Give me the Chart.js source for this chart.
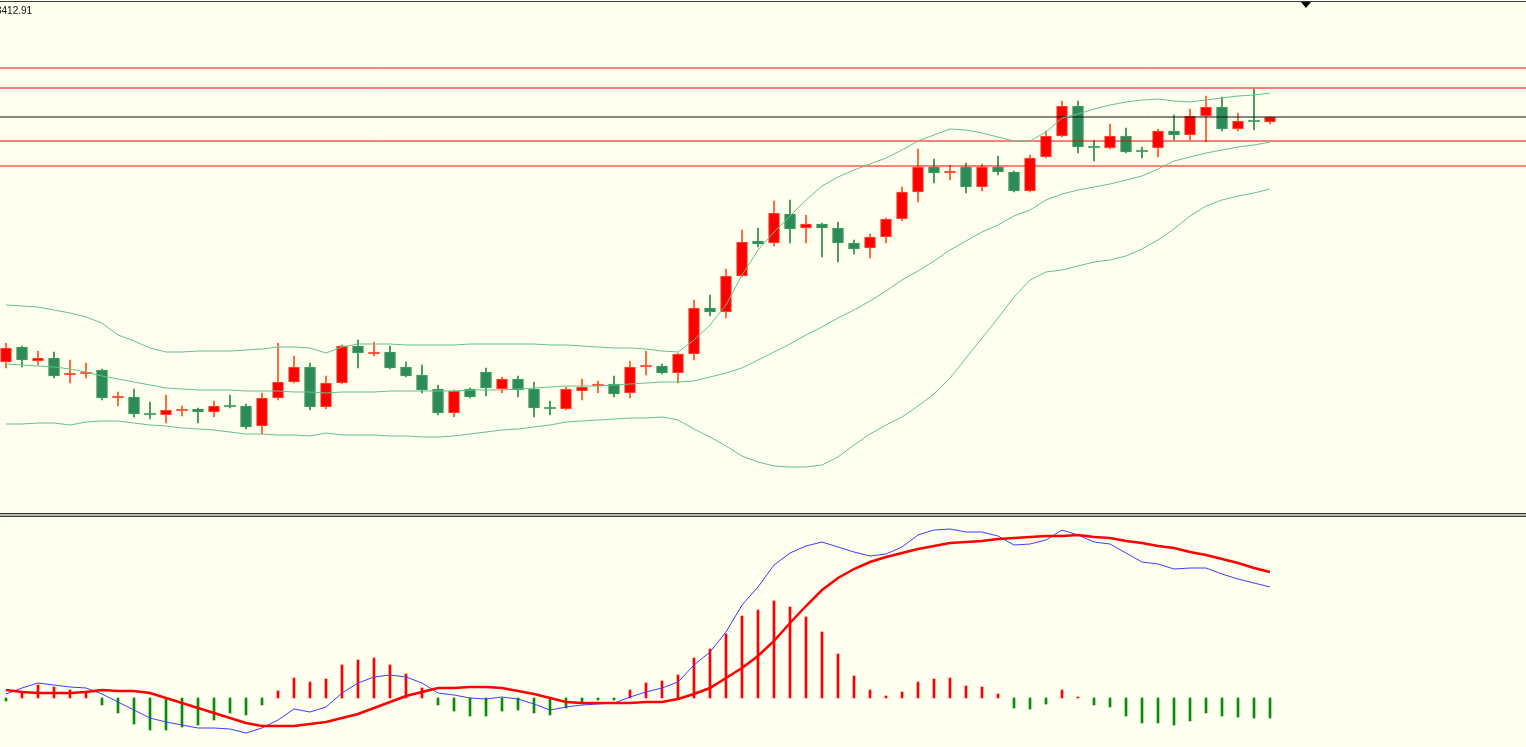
<!DOCTYPE html>
<html>
<head>
<meta charset="utf-8">
<script src="https://cdn.jsdelivr.net/npm/chart.js@4.4.1/dist/chart.umd.min.js"></script>
<style>
    html, body { margin: 0; padding: 0; background: #FFFFF0; width: 1526px; height: 747px; overflow: hidden; }
    #wrap { position: relative; width: 1526px; height: 747px; background: #FFFFF0; }
    canvas { position: absolute; left: 0; }
    #priceChart { top: 0; }
    #macdChart { top: 517px; }
    .rule { position: absolute; left: 0; width: 1526px; height: 1px; background: #3a3a3a; }
    #priceLabel { position: absolute; left: -4px; top: 5px; font: 10px "Liberation Sans", Arial, sans-serif; color: #111; }
    #macdLabel { position: absolute; left: -4px; top: 517px; font: 9px "Liberation Sans", Arial, sans-serif; color: #3030ff; }
    #marker { position: absolute; left: 1301px; top: 2px; width: 0; height: 0;
        border-left: 5px solid transparent; border-right: 5px solid transparent; border-top: 6px solid #000; }
</style>
</head>
<body>
<div id="wrap">
    <canvas id="priceChart" width="1526" height="513"></canvas>
    <canvas id="macdChart" width="1526" height="230"></canvas>
    <div class="rule" style="top:1px"></div>
    <div class="rule" style="top:513px"></div>
    <div class="rule" style="top:514px;background:#b8b8b0"></div>
    <div class="rule" style="top:515px;background:#b8b8b0"></div>
    <div class="rule" style="top:516px"></div>
    <div id="priceLabel">3412.91</div>
    <div id="macdLabel">s</div>
    <div id="marker"></div>
</div>
<script>
// candles (oldest -> newest)
const opens  = [158,173,159,162,145,146,150,122,123,107,105,109,111,108,115,114,94,122,138,153,113,137,174,166,168,153,145,131,107,131,148,131,141,131,113,111,129,134,136,127,153,154,147,166,212,208,244,279,277,306,292,296,292,277,272,283,301,328,353,347,353,333,353,348,329,363,384,414,374,372,384,370,372,389,385,404,413,391,400,398];
const highs  = [177,174,169,168,160,157,151,128,131,118,125,114,112,119,125,116,127,177,164,157,144,175,180,178,174,158,155,135,130,132,152,143,144,138,119,133,141,139,144,159,169,156,167,220,225,251,290,292,319,320,305,297,298,280,286,302,333,371,361,355,357,356,364,349,365,389,419,419,380,396,392,373,391,405,411,424,423,407,431,403];
const lows   = [152,153,155,142,137,142,120,114,103,101,97,104,97,103,112,91,86,120,137,110,111,136,152,164,151,143,127,105,103,122,124,127,123,103,105,110,120,127,123,122,145,146,137,160,204,202,243,273,274,277,277,263,258,266,262,277,299,318,337,340,327,329,345,328,328,362,383,367,359,371,367,362,363,380,380,378,389,389,390,396];
const closes = [172,160,162,144,147,148,122,124,106,105,110,111,108,114,113,93,122,138,153,113,137,174,167,168,152,144,130,107,129,123,132,141,130,112,111,131,133,136,126,153,155,147,166,212,208,244,278,276,307,291,296,292,277,271,283,301,328,353,347,349,333,353,348,329,362,384,414,373,372,384,368,368,389,385,404,413,391,399,398,403];

// bollinger bands
const bbUpper  = [215,214,213,210,207,203,197,185,179,172,168,168,169,169,169,170,171,173,173,172,167,173,176,176,176,175,175,175,175,176,176,176,176,176,175,175,174,173,172,172,171,169,168,180,195,215,245,270,288,304,320,334,343,350,356,362,370,379,385,391,390,387,383,379,379,388,402,406,411,415,418,420,421,419,418,420,422,424,425,427];
const bbMiddle = [156,155,154,153,151,148,144,141,138,135,132,131,130,130,130,129,129,129,128,128,127,128,128,128,129,129,129,129,129,130,130,130,131,132,133,134,134,134,135,136,137,138,138,139,143,147,152,160,168,176,185,193,202,210,219,229,240,249,259,270,279,288,295,304,310,320,326,330,333,336,340,344,351,359,363,367,370,373,375,378];
const bbLower  = [96,96,97,97,95,98,99,99,97,95,94,92,91,90,88,86,86,85,85,84,87,85,85,85,84,84,83,83,84,86,88,90,91,93,95,98,99,100,101,102,102,103,100,91,83,74,64,58,54,53,53,55,63,75,86,95,103,114,126,142,162,182,202,223,240,248,250,254,258,260,264,271,280,291,304,314,320,324,327,331];

// horizontal price levels
const redLevels = [452, 432, 379, 354];

// MACD panel
const macdLine   = [4,10,15,13,11,10,4,-4,-12,-20,-24,-27,-30,-30,-31,-35,-30,-22,-11,-14,-9,5,15,21,23,21,15,5,3,0,-1,1,-1,-6,-12,-9,-7,-6,-5,1,6,10,16,33,46,66,93,111,133,145,152,156,151,146,142,144,151,163,168,169,166,166,162,153,154,158,168,163,156,154,145,136,134,129,130,130,124,119,115,111];
const signalLine = [8,6,5,5,5,6,8,7,7,5,0,-5,-10,-15,-20,-25,-28,-28,-28,-26,-24,-20,-16,-10,-4,2,6,10,10,11,11,10,7,4,0,-4,-5,-5,-5,-5,-4,-4,-1,4,10,20,30,42,57,75,92,108,120,129,136,141,145,149,152,155,156,157,159,160,161,162,162,163,161,160,157,155,152,150,146,143,139,135,130,126];
const macdHist   = [-3,6,13,11,8,7,-7,-15,-26,-32,-32,-29,-27,-22,-15,-17,-7,7,20,16,19,33,38,40,33,24,10,-7,-13,-18,-18,-13,-12,-15,-17,-10,-5,-2,-2,8,15,17,23,40,49,64,82,88,97,91,81,66,44,22,8,2,6,16,19,20,12,11,4,-10,-11,-6,8,1,-7,-9,-18,-25,-25,-27,-23,-15,-18,-19,-20,-20];

const UP_BODY = '#FF0000', UP_EDGE = '#FF5533', UP_WICK = '#FF4F1F';
const DN_BODY = '#2E8B57', DN_EDGE = '#3F9E66', DN_WICK = '#2A8A3C';
const BAND = '#62C28A';

const X_MIN = -0.375, X_MAX = 95;

const isUp = opens.map((o, i) => closes[i] >= o);
const pts = arr => arr.map((v, i) => ({ x: i, y: v }));
const flat = v => [{ x: X_MIN, y: v }, { x: X_MAX, y: v }];

function lineSet(data, color, width) {
    return {
        type: 'line',
        data: data,
        borderColor: color,
        borderWidth: width,
        pointRadius: 0,
        tension: 0,
        fill: false,
        order: 0
    };
}

const hiddenScales = (yMin, yMax) => ({
    x: { type: 'linear', min: X_MIN, max: X_MAX, display: false, offset: false },
    y: { type: 'linear', min: yMin, max: yMax, display: false }
});

const commonOpts = {
    responsive: false,
    maintainAspectRatio: false,
    animation: false,
    devicePixelRatio: 1,
    layout: { padding: 0 },
    plugins: { legend: { display: false }, tooltip: { enabled: false } }
};

// current price line sits on the last close
const lastPrice = closes[closes.length - 1];

new Chart(document.getElementById('priceChart').getContext('2d'), {
    type: 'bar',
    data: {
        datasets: [
            {
                label: 'wick',
                data: highs.map((h, i) => ({ x: i, y: [lows[i], h] })),
                backgroundColor: isUp.map(u => u ? UP_WICK : DN_WICK),
                barThickness: 1,
                grouped: false,
                order: 3
            },
            {
                label: 'body',
                data: opens.map((o, i) => ({ x: i, y: [o, closes[i]] })),
                backgroundColor: isUp.map(u => u ? UP_BODY : DN_BODY),
                borderColor: isUp.map(u => u ? UP_EDGE : DN_EDGE),
                borderWidth: 1,
                borderSkipped: false,
                barThickness: 11,
                grouped: false,
                order: 2
            },
            lineSet(pts(bbUpper), BAND, 1),
            lineSet(pts(bbMiddle), BAND, 1),
            lineSet(pts(bbLower), BAND, 1),
            ...redLevels.map(v => lineSet(flat(v), '#FF0000', 1)),
            lineSet(flat(lastPrice), '#111111', 1)
        ]
    },
    options: Object.assign({}, commonOpts, { scales: hiddenScales(7, 520) })
});

new Chart(document.getElementById('macdChart').getContext('2d'), {
    type: 'bar',
    data: {
        datasets: [
            {
                label: 'hist',
                data: macdHist.map((v, i) => ({ x: i, y: v })),
                backgroundColor: macdHist.map(v => v >= 0 ? '#FF0000' : '#0A8A0A'),
                barThickness: 2,
                grouped: false,
                order: 3
            },
            lineSet(pts(signalLine), '#FF0000', 2.5),
            lineSet(pts(macdLine), '#3C3CFF', 1)
        ]
    },
    options: Object.assign({}, commonOpts, { scales: hiddenScales(-49, 181) })
});
</script>
</body>
</html>
